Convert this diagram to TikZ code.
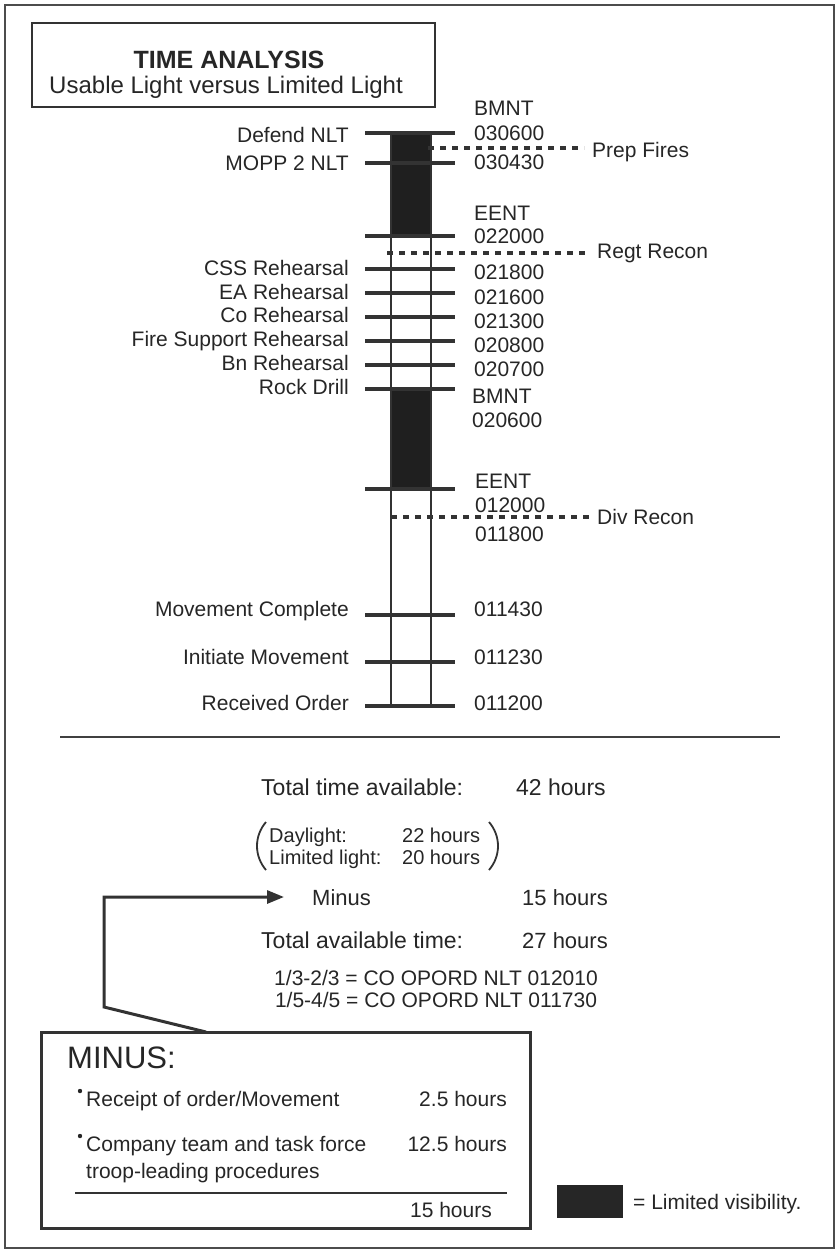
\documentclass[tikz,border=0pt]{standalone}
\usepackage{fontspec}
\setmainfont{Liberation Sans}
\usetikzlibrary{arrows.meta}
\begin{document}
\begin{tikzpicture}[x=1pt,y=-1pt,
  lbl/.style={inner sep=0pt, text height=15pt, text depth=0pt, font=\fontsize{21}{25}\selectfont, text=black!85},
  leftlbl/.style={lbl, anchor=east},
  rightlbl/.style={lbl, anchor=west},
  biglbl/.style={inner sep=0pt, text height=16.5pt, text depth=0pt, font=\fontsize{23}{27}\selectfont, text=black!85, anchor=west},
  boxitem/.style={inner sep=0pt, text height=15pt, text depth=0pt, font=\fontsize{21}{25}\selectfont, text=black!85},
  ticklineL/.style={line width=3.2pt, draw=black!80},
  barline/.style={line width=2.6pt, draw=black!80},
  dashline/.style={line width=3.2pt, draw=black!80, dash pattern=on 6pt off 6pt},
  framebox/.style={line width=2.8pt, draw=black!80},
  connector/.style={line width=3pt, draw=black!80}
]
\useasboundingbox (0,0) rectangle (840,1253);
% outer frame
\draw[line width=2.4pt, draw=black!70] (5,5) rectangle (834,1248);

% title box
\draw[framebox] (32,23) rectangle (435,107);
\node[inner sep=0pt, font=\fontsize{25}{29}\selectfont\bfseries, text=black!85] (title) at (229,60) {TIME ANALYSIS};
\node[inner sep=0pt, font=\fontsize{24}{28}\selectfont, text=black!85] (subtitle) at (226,87) {Usable Light versus Limited Light};

% bar: limited light blocks
\fill[black!88] (391,133) rectangle (431,236);
\fill[black!88] (391,389) rectangle (431,489);
\draw[barline] (391,133) rectangle (431,706);

% ticks
\foreach \yy in {133,163,236,269,293,317,341,365,389,489,615,662,706}
  \draw[ticklineL] (365,\yy) -- (455,\yy);

% dashed lines
\node[rightlbl] (prep) at (592,150) {Prep Fires};
\node[rightlbl] (regt) at (597,251) {Regt Recon};
\node[rightlbl] (div) at (597,517) {Div Recon};
\coordinate (prepS) at (428,148);
\coordinate (regtS) at (387,253);
\coordinate (divS) at (391,517);
\draw[dashline] (prepS) -- ([xshift=-8pt]prep.west |- prepS);
\draw[dashline] (regtS) -- ([xshift=-8pt]regt.west |- regtS);
\draw[dashline] (divS) -- ([xshift=-8pt]div.west |- divS);

% left labels
\node[leftlbl] (l1) at (349,135) {Defend NLT};
\node[leftlbl] (l2) at (349,163) {MOPP 2 NLT};
\node[leftlbl] (l3) at (349,268) {CSS Rehearsal};
\node[leftlbl] (l4) at (349,292) {EA Rehearsal};
\node[leftlbl] (l5) at (349,315) {Co Rehearsal};
\node[leftlbl] (l6) at (349,339) {Fire Support Rehearsal};
\node[leftlbl] (l7) at (349,363) {Bn Rehearsal};
\node[leftlbl] (l8) at (349,387) {Rock Drill};
\node[leftlbl] (l9) at (349,609) {Movement Complete};
\node[leftlbl] (l10) at (349,657) {Initiate Movement};
\node[leftlbl] (l11) at (349,703) {Received Order};

% right labels
\node[rightlbl] (r0) at (474,108) {BMNT};
\node[rightlbl] (r1) at (474,133) {030600};
\node[rightlbl] (r2) at (474,162) {030430};
\node[rightlbl] (r3a) at (474,213) {EENT};
\node[rightlbl] (r3) at (474,236) {022000};
\node[rightlbl] (r4) at (474,272) {021800};
\node[rightlbl] (r5) at (474,297) {021600};
\node[rightlbl] (r6) at (474,321) {021300};
\node[rightlbl] (r7) at (474,345) {020800};
\node[rightlbl] (r8) at (474,369) {020700};
\node[rightlbl] (r9a) at (472,396) {BMNT};
\node[rightlbl] (r9) at (472,420) {020600};
\node[rightlbl] (r10a) at (475,481) {EENT};
\node[rightlbl] (r10) at (475,505) {012000};
\node[rightlbl] (r11) at (475,534) {011800};
\node[rightlbl] (r12) at (474,609) {011430};
\node[rightlbl] (r13) at (474,657) {011230};
\node[rightlbl] (r14) at (474,703) {011200};

% separator
\draw[line width=1.4pt, draw=black!75] (60,737) -- (780,737);

% totals
\node[biglbl] (tta) at (261,787) {Total time available:};
\node[biglbl] (h42) at (516,787) {42 hours};
\node[boxitem, anchor=west, font=\fontsize{20}{24}\selectfont] (day) at (269,835) {Daylight:};
\node[boxitem, anchor=west, font=\fontsize{20}{24}\selectfont] (day2) at (402,835) {22 hours};
\node[boxitem, anchor=west, font=\fontsize{20}{24}\selectfont] (lim) at (269,857) {Limited light:};
\node[boxitem, anchor=west, font=\fontsize{20}{24}\selectfont] (lim2) at (402,857) {20 hours};
\draw[line width=1.8pt, draw=black!80] (266,822) .. controls (254,836) and (254,856) .. (266,870);
\draw[line width=1.8pt, draw=black!80] (489,822) .. controls (501,836) and (501,856) .. (489,870);
\node[biglbl, font=\fontsize{22}{26}\selectfont] (minus) at (312,897) {Minus};
\node[biglbl, font=\fontsize{22}{26}\selectfont] (h15) at (522,897) {15 hours};
\node[biglbl] (tat) at (261,940) {Total available time:};
\node[biglbl, font=\fontsize{22}{26}\selectfont] (h27) at (522,940) {27 hours};
\node[boxitem] (op1) at (436,978) {1/3-2/3 = CO OPORD NLT 012010};
\node[boxitem] (op2) at (436,1000) {1/5-4/5 = CO OPORD NLT 011730};

% MINUS box
\draw[line width=3pt, draw=black!80] (41,1032) rectangle (530,1228);
\coordinate (boxtop) at (206,1032);
\coordinate (bend1) at (104,1007);
\coordinate (bend2) at (104,897);
\draw[connector, -{Triangle[length=17pt,width=13pt]}] (boxtop) -- (bend1) -- (bend2) -- ([xshift=-28pt]minus.west |- bend2);

\node[inner sep=0pt, anchor=west, text height=23pt, text depth=0pt, font=\fontsize{31}{35}\selectfont, text=black!85] (mhead) at (67,1057) {MINUS:};
\fill[black!85] (80,1091) circle (2.2pt);
\node[boxitem, anchor=west] (m1) at (86,1099) {Receipt of order/Movement};
\node[boxitem, anchor=east] (m1h) at (507,1099) {2.5 hours};
\fill[black!85] (80,1136) circle (2.2pt);
\node[boxitem, anchor=west] (m2) at (86,1144) {Company team and task force};
\node[boxitem, anchor=east] (m2h) at (507,1144) {12.5 hours};
\node[boxitem, anchor=west] (m3) at (86,1171) {troop-leading procedures};
\draw[line width=2.6pt, draw=black!80] (75,1193) -- (507,1193);
\node[boxitem, anchor=east] (mtot) at (492,1210) {15 hours};

% legend
\fill[black!85] (557,1185) rectangle (623,1218);
\node[boxitem, anchor=west] (legend) at (633,1202) {= Limited visibility.};
\end{tikzpicture}
\end{document}
